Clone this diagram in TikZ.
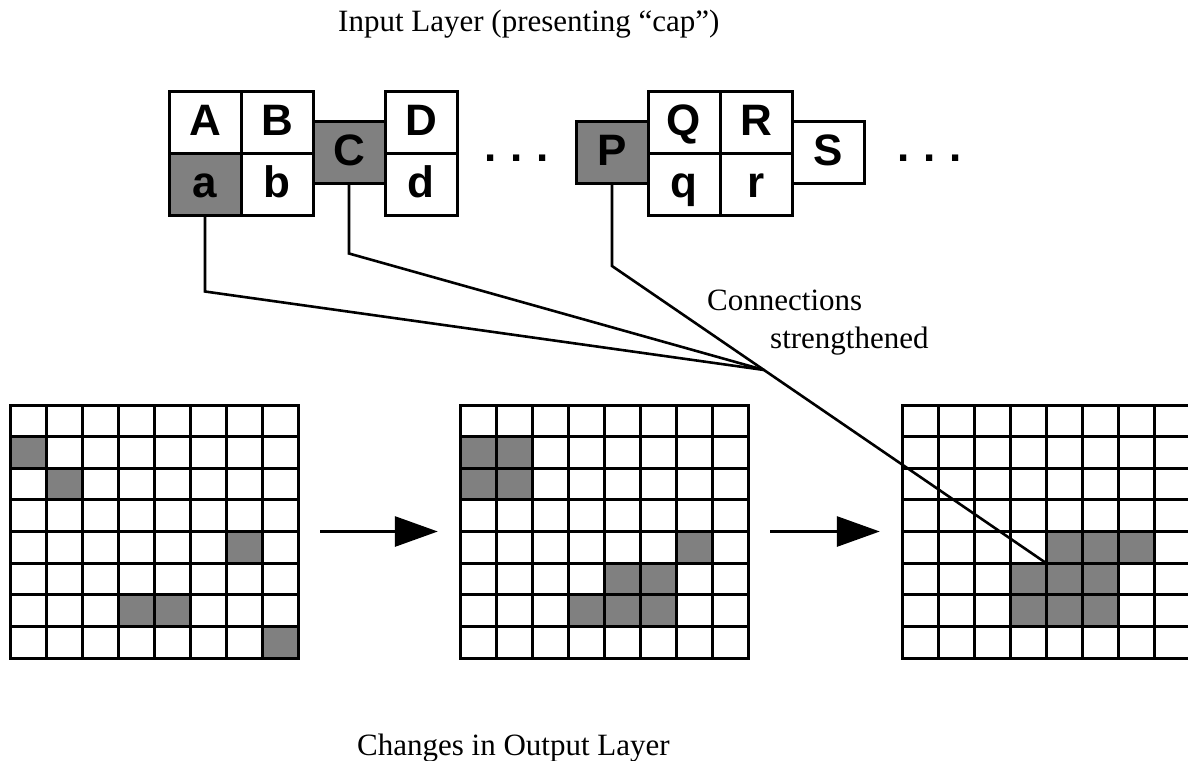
\documentclass[tikz,border=0pt]{standalone}
\usepackage{fontspec}
\setmainfont{Liberation Serif}
\newfontfamily\cellfont{Liberation Sans}
\usetikzlibrary{arrows.meta,calc}

\tikzset{
  cellbox/.style={draw, line width=3pt, minimum width=72pt, minimum height=62pt, inner sep=0pt,
    font=\cellfont\bfseries\fontsize{44}{44}\selectfont, text height=33pt, text depth=7pt},
  onbox/.style={cellbox, fill=black!50},
  dotrow/.style={anchor=base west, inner sep=0pt, font=\cellfont\bfseries\fontsize{44}{44}\selectfont},
  layername/.style={anchor=base west, inner sep=0pt, font=\fontsize{31}{36}\selectfont},
  gridline/.style={line width=3pt, line cap=rect},
  gridarea/.style={minimum width=288pt, minimum height=253pt, inner sep=0pt},
  wire/.style={line width=2.6pt},
  moveon/.style={line width=3pt, -{Triangle[length=43pt,width=30pt]}, shorten <=22pt, shorten >=22pt}
}

\begin{document}
\begin{tikzpicture}[x=1pt, y=-1pt]
\useasboundingbox (0,0) rectangle (1188,760);
\clip (0,0) rectangle (1188,760);

\node[layername] (intitle) at (338,32) {Input Layer (presenting “cap”)};
\node[layername] (conntext) at (707,310) {Connections};
\node[layername] (strtext) at (770,348) {strengthened};
\node[layername] (outtitle) at (357,755) {Changes in Output Layer};

% output layer, three stages
\node[gridarea] (out1) at (154,531.5) {};
\node[gridarea] (out2) at (604,531.5) {};
\node[gridarea] (out3) at (1046,531.5) {};
\foreach \c/\r in {0/1,1/2,6/4,3/6,4/6,7/7}
    \fill[black!50] (10+\c*36, 405+\r*31.625) rectangle ++(36,31.625);
\foreach \c/\r in {0/1,1/1,0/2,1/2,6/4,4/5,5/5,3/6,4/6,5/6}
    \fill[black!50] (460+\c*36, 405+\r*31.625) rectangle ++(36,31.625);
\foreach \c/\r in {4/4,5/4,6/4,3/5,4/5,5/5,3/6,4/6,5/6}
    \fill[black!50] (902+\c*36, 405+\r*31.625) rectangle ++(36,31.625);
\foreach \gx in {10,460,902}
    \foreach \k in {0,...,8} {
        \draw[gridline] (\gx+\k*36,405) -- ++(0,253);
        \draw[gridline] (\gx,405+\k*31.625) -- ++(288,0);
    }
\draw[moveon] (out1) -- (out2);
\draw[moveon] (out2) -- (out3);

% input layer
\node[cellbox] (inA) at (205,122) {A};
\node[cellbox] (inB) at (277,122) {B};
\node[onbox] (ina) at (205,184) {a};
\node[cellbox] (inb) at (277,184) {b};
\node[onbox] (inC) at (349,152) {C};
\node[cellbox] (inD) at (421,122) {D};
\node[cellbox] (ind) at (421,184) {d};
\node[dotrow] (gap1) at (484,161) {.\hspace{14pt}.\hspace{14pt}.};
\node[onbox] (inP) at (612,152) {P};
\node[cellbox] (inQ) at (684,122) {Q};
\node[cellbox] (inR) at (756,122) {R};
\node[cellbox] (inq) at (684,184) {q};
\node[cellbox] (inr) at (756,184) {r};
\node[cellbox] (inS) at (828,152) {S};
\node[dotrow] (gap2) at (897,161) {.\hspace{14pt}.\hspace{14pt}.};

\coordinate (pbend) at (612,266);
\coordinate (hit) at (1046,563);
\coordinate (conv) at ($(pbend)!0.35!(hit)$);
\draw[wire] (ina.south) -- ++(0,75) -- (conv);
\draw[wire] (inC.south) -- ++(0,69) -- (conv);
\draw[wire] (inP.south) -- (pbend) -- (hit);
\end{tikzpicture}
\end{document}
